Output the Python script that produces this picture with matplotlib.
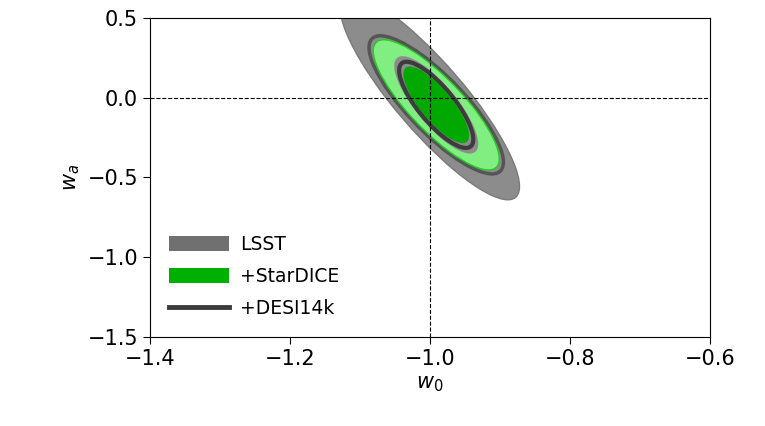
import matplotlib
matplotlib.use('Agg')
import matplotlib.pyplot as plt
from matplotlib.patches import Ellipse, Patch
from matplotlib.lines import Line2D
import numpy as np

# fiducial and contour centre of the combined fits
fid_w0, fid_wa = -1.0, 0.0
cen_w0, cen_wa = -0.991, -0.045

# contour half-extents in w0 and wa, plus correlation (outermost first)
lsst_2s = (0.128, 0.640, -0.87)
desi_2s = (0.096, 0.433, -0.83)
sd_2s = (0.090, 0.408, -0.83)
lsst_1s = (0.060, 0.305, -0.80)
desi_1s = (0.053, 0.270, -0.80)
sd_1s = (0.047, 0.240, -0.80)

labels = ['LSST', '+StarDICE', '+DESI14k']
xticks = [-1.4, -1.2, -1.0, -0.8, -0.6]
yticks = [0.5, 0.0, -0.5, -1.0, -1.5]


def ellipse(sx, sy, rho, centre=(cen_w0, cen_wa), **kw):
  cov = np.array([[sx * sx, rho * sx * sy], [rho * sx * sy, sy * sy]])
  vals, vecs = np.linalg.eigh(cov)
  ang = np.degrees(np.arctan2(vecs[1, 1], vecs[0, 1]))
  return Ellipse(centre, 2 * np.sqrt(vals[1]), 2 * np.sqrt(vals[0]),
                 angle=ang, **kw)


fig = plt.figure(figsize=(7.65, 4.26), dpi=100)
ax = fig.add_axes([0.196, 0.209, 0.732, 0.749])

ax.add_patch(ellipse(*lsst_2s, centre=(fid_w0, fid_wa), facecolor='#8c8c8c',
                     edgecolor='#7a7a7a', lw=1, zorder=2))
ax.add_patch(ellipse(*desi_2s, facecolor='none', edgecolor='#555555', lw=2.5, zorder=3))
ax.add_patch(ellipse(*sd_2s, facecolor='#80ee80', edgecolor='#22cc22', lw=1, zorder=4))
ax.add_patch(ellipse(*lsst_1s, facecolor='#8c8c8c', edgecolor='none', zorder=5))
ax.add_patch(ellipse(*desi_1s, facecolor='none', edgecolor='#3c3c3c', lw=3, zorder=6))
ax.add_patch(ellipse(*sd_1s, facecolor='#00a800', edgecolor='none', zorder=7))

ax.axvline(fid_w0, color='k', ls='--', lw=0.8, zorder=8)
ax.axhline(fid_wa, color='k', ls='--', lw=0.8, zorder=8)

ax.set_xlim(-1.4, -0.6)
ax.set_ylim(-1.5, 0.5)
ax.set_xticks(xticks)
ax.set_yticks(yticks)
ax.tick_params(labelsize=15, length=5)
ax.set_xlabel('$w_0$', fontsize=15)
ax.set_ylabel('$w_a$', fontsize=15)

handles = [Patch(facecolor='#707070', edgecolor='none'),
           Patch(facecolor='#00b000', edgecolor='none'),
           Line2D([], [], color='#3c3c3c', lw=3.5)]
ax.legend(handles, labels, loc='lower left', frameon=False, fontsize=13.5,
          handlelength=3.2, handleheight=0.8, labelspacing=0.7,
          handletextpad=0.6, borderaxespad=0.6)

plt.savefig('out.png')
